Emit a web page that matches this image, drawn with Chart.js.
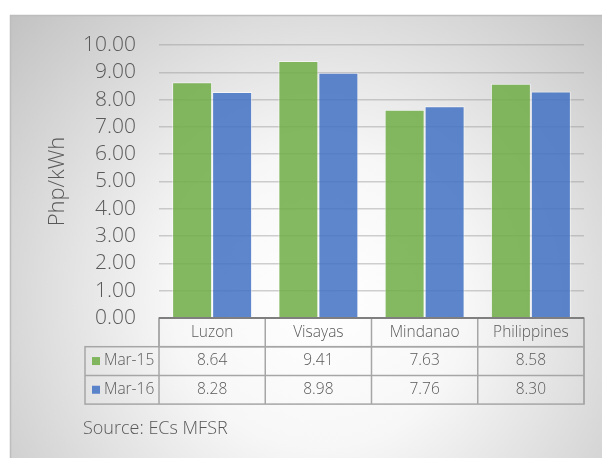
<!DOCTYPE html>
<html>
<head>
<meta charset="utf-8">
<script src="https://cdn.jsdelivr.net/npm/chart.js@4/dist/chart.umd.min.js"></script>
<style>
  html, body { margin: 0; padding: 0; background: #ffffff; }
  #wrap { position: relative; width: 602px; height: 458px; }
</style>
</head>
<body>
<div id="wrap"><canvas id="c" width="602" height="458"></canvas></div>
<script>
// Average electricity rates by island group
const regions = ['Luzon', 'Visayas', 'Mindanao', 'Philippines'];
const seriesNames = ['Mar-15', 'Mar-16'];
const mar15 = [8.64, 9.41, 7.63, 8.58];
const mar16 = [8.28, 8.98, 7.76, 8.30];
const yTicks = [0, 1, 2, 3, 4, 5, 6, 7, 8, 9, 10];
const sourceNote = 'Source: ECs MFSR';

const GREEN = 'rgba(112,173,71,0.86)';
const BLUE = 'rgba(68,114,196,0.86)';
const TEXT = '#595959';
const FONT = '"Open Sans", "Liberation Sans", sans-serif';

// Frame with soft radial shading behind everything
const backdrop = {
  id: 'backdrop',
  beforeDraw(chart) {
    const ctx = chart.ctx;
    ctx.save();
    const g = ctx.createRadialGradient(320, 300, 0, 320, 300, 420);
    g.addColorStop(0, '#ffffff');
    g.addColorStop(0.35, '#f7f7f7');
    g.addColorStop(1, '#c2c2c2');
    ctx.fillStyle = g;
    ctx.fillRect(10, 15, 592, 443);
    ctx.strokeStyle = '#bdbdbd';
    ctx.lineWidth = 1.5;
    ctx.beginPath();
    ctx.moveTo(10.5, 458);
    ctx.lineTo(10.5, 15.5);
    ctx.lineTo(602, 15.5);
    ctx.stroke();
    ctx.restore();
  }
};

// Data table under the plot area
const dataTable = {
  id: 'dataTable',
  afterDraw(chart) {
    const ctx = chart.ctx;
    const x = chart.scales.x;
    const y = chart.scales.y;
    const left = chart.chartArea.left;
    const right = chart.chartArea.right;
    const top = y.getPixelForValue(0);
    const rowH = 28.7;
    const legendLeft = 85;
    const colW = (right - left) / regions.length;
    ctx.save();
    ctx.strokeStyle = '#a6a6a6';
    ctx.lineWidth = 1.5;
    // header row box
    ctx.strokeRect(left, top, right - left, rowH);
    // body rows incl. legend column
    ctx.strokeRect(legendLeft, top + rowH, right - legendLeft, rowH * 2);
    ctx.beginPath();
    ctx.moveTo(legendLeft, top + rowH * 2);
    ctx.lineTo(right, top + rowH * 2);
    for (let i = 0; i <= regions.length; i++) {
      const cx = left + colW * i;
      ctx.moveTo(cx, top);
      ctx.lineTo(cx, top + rowH * 3);
    }
    ctx.stroke();
    // axis base line
    ctx.strokeStyle = '#7f7f7f';
    ctx.lineWidth = 2;
    ctx.beginPath();
    ctx.moveTo(left, top);
    ctx.lineTo(right, top);
    ctx.stroke();

    ctx.fillStyle = TEXT;
    ctx.font = '300 15.5px ' + FONT;
    ctx.textBaseline = 'middle';
    ctx.textAlign = 'center';
    regions.forEach((r, i) => {
      const cx = x.getPixelForValue(i);
      ctx.fillText(r, cx, top + rowH / 2);
      ctx.fillText(mar15[i].toFixed(2), cx, top + rowH * 1.5);
      ctx.fillText(mar16[i].toFixed(2), cx, top + rowH * 2.5);
    });
    const swatches = [GREEN, BLUE];
    seriesNames.forEach((s, j) => {
      const cy = top + rowH * (1.5 + j);
      ctx.fillStyle = swatches[j];
      ctx.fillRect(92, cy - 4, 8, 8);
      ctx.fillStyle = TEXT;
      ctx.textAlign = 'left';
      ctx.fillText(s, 104, cy);
    });
    ctx.font = '300 18px ' + FONT;
    ctx.textAlign = 'left';
    ctx.fillText(sourceNote, 83, 429);
    ctx.restore();
  }
};

new Chart(document.getElementById('c'), {
  type: 'bar',
  data: {
    labels: regions,
    datasets: [
      { label: seriesNames[0], data: mar15, backgroundColor: GREEN,
        borderColor: 'rgba(255,255,255,0.55)', borderWidth: 1 },
      { label: seriesNames[1], data: mar16, backgroundColor: BLUE,
        borderColor: 'rgba(255,255,255,0.55)', borderWidth: 1 }
    ]
  },
  options: {
    responsive: false,
    animation: false,
    devicePixelRatio: 1,
    layout: { padding: { top: 45, right: 18, bottom: 140, left: 0 } },
    plugins: { legend: { display: false }, tooltip: { enabled: false } },
    datasets: { bar: { categoryPercentage: 0.753, barPercentage: 1.0 } },
    scales: {
      x: { display: false },
      y: {
        min: 0, max: 10,
        afterFit(scale) { scale.width = 159; },
        afterBuildTicks(scale) { scale.ticks = yTicks.map(v => ({ value: v })); },
        ticks: {
          autoSkip: false,
          padding: 23,
          color: TEXT,
          font: { family: FONT, size: 21, weight: '300', lineHeight: 1 },
          callback: v => Number(v).toFixed(2)
        },
        grid: {
          drawTicks: false,
          color: ctx => ctx.tick && ctx.tick.value === 0 ? 'rgba(0,0,0,0)' : 'rgba(150,150,150,0.45)',
          lineWidth: 1.5
        },
        border: { display: false },
        title: {
          display: true,
          text: 'Php/kWh',
          color: TEXT,
          font: { family: FONT, size: 22, weight: '300' },
          padding: { top: 45, bottom: 0 }
        }
      }
    }
  },
  plugins: [backdrop, dataTable]
});
</script>
</body>
</html>
